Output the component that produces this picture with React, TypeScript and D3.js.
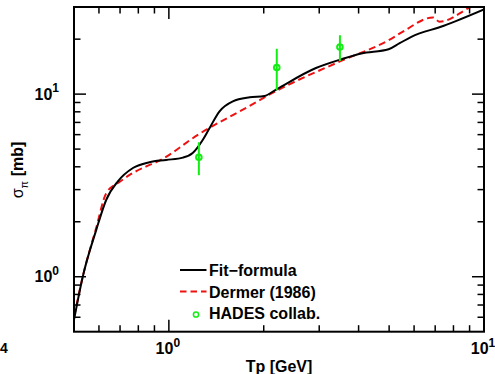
import React from 'react';
import * as d3 from 'd3';

const fitT = [0.5, 0.533, 0.588, 0.633, 0.689, 0.769, 0.868, 0.981, 1.108, 1.19, 1.282, 1.347, 1.448, 1.596, 1.805, 2.01, 2.19, 2.93, 3.52, 4.08, 4.98, 5.4, 5.88, 7.42, 10];
const fitS = [0.58, 1.0, 1.8, 2.64, 3.33, 3.94, 4.24, 4.36, 4.49, 4.76, 5.63, 6.53, 8.05, 9.13, 9.6, 9.77, 10.6, 13.9, 15.5, 16.7, 17.6, 19.0, 20.6, 23.6, 29.1];

const dermerT = [0.5, 0.533, 0.588, 0.633, 0.697, 0.769, 0.848, 0.923, 1.25, 1.8, 2.19, 3.52, 5.0, 5.53, 6.89, 7.23, 9.12, 10];
const dermerS = [0.6, 1.0, 1.85, 2.87, 3.3, 3.7, 4.02, 4.28, 6.06, 8.6, 10.4, 15.2, 19.8, 22.0, 26.3, 24.9, 30.2, 32.5];

const hadesT = [1.245, 2.2, 3.49];
const hadesS = [4.51, 14.0, 18.1];
const hadesLo = [3.59, 10.5, 15.2];
const hadesHi = [5.45, 17.7, 21.0];

const xMajor = [1, 10];
const xMajorExp = ['0', '1'];
const yMajor = [1, 10];
const yMajorExp = ['0', '1'];
const xMinor = [0.6, 0.7, 0.8, 0.9, 2, 3, 4, 5, 6, 7, 8, 9];
const yMinor = [0.6, 0.7, 0.8, 0.9, 2, 3, 4, 5, 6, 7, 8, 9, 20];
const legendLabels = ['Fit\u2212formula', 'Dermer (1986)', 'HADES collab.'];

const W = 495, H = 374;
const L = 74, R = 484, T = 7, B = 331.7;
const FONT = 'Liberation Sans, Arial, Helvetica, sans-serif';
const GREEN = '#11ee11';

export default function App() {
  const x = d3.scaleLog().domain([0.5, 10]).range([L, R]);
  const y = d3.scaleLog().domain([0.5, 30]).range([B, T]);

  const line = d3.line<[number, number]>()
    .x(d => x(d[0]))
    .y(d => y(d[1]))
    .curve(d3.curveMonotoneX);

  const fitPath = line(fitT.map((t, i) => [t, fitS[i]] as [number, number])) || '';
  const dermerPath = line(dermerT.map((t, i) => [t, dermerS[i]] as [number, number])) || '';

  const majLen = 12, minLen = 6.5;

  return (
    <svg width={W} height={H} style={{ position: 'absolute', left: 0, top: 0, background: '#fff' }} fontFamily={FONT}>
      <defs>
        <clipPath id="plotclip">
          <rect x={L} y={T} width={R - L} height={B - T} />
        </clipPath>
      </defs>
      <rect x={0} y={0} width={W} height={H} fill="#fff" />

      {/* curves */}
      <g clipPath="url(#plotclip)">
        <path d={dermerPath} fill="none" stroke="#ee1111" strokeWidth={2} strokeDasharray="7,4" />
        <path d={fitPath} fill="none" stroke="#000" strokeWidth={2} />
        {hadesT.map((t, i) => (
          <g key={i}>
            <line x1={x(t)} x2={x(t)} y1={y(hadesLo[i])} y2={y(hadesHi[i])} stroke={GREEN} strokeWidth={2} />
            <circle cx={x(t)} cy={y(hadesS[i])} r={2.8} fill="none" stroke={GREEN} strokeWidth={2} />
          </g>
        ))}
      </g>

      {/* frame */}
      <rect x={L} y={T} width={R - L} height={B - T} fill="none" stroke="#000" strokeWidth={2} />

      {/* x ticks */}
      {xMajor.map((v, i) => (
        <g key={'xm' + i}>
          <line x1={x(v)} x2={x(v)} y1={B} y2={B - majLen} stroke="#000" strokeWidth={1.5} />
          <line x1={x(v)} x2={x(v)} y1={T} y2={T + majLen} stroke="#000" strokeWidth={1.5} />
          <text x={x(v) - 1} y={354} textAnchor="middle" fontSize={16} fontWeight="bold">
            10<tspan dy={-7.5} fontSize={12}>{xMajorExp[i]}</tspan>
          </text>
        </g>
      ))}
      {xMinor.map((v, i) => (
        <g key={'xn' + i}>
          <line x1={x(v)} x2={x(v)} y1={B} y2={B - minLen} stroke="#000" strokeWidth={1.5} />
          <line x1={x(v)} x2={x(v)} y1={T} y2={T + minLen} stroke="#000" strokeWidth={1.5} />
        </g>
      ))}

      {/* y ticks */}
      {yMajor.map((v, i) => (
        <g key={'ym' + i}>
          <line x1={L} x2={L + majLen} y1={y(v)} y2={y(v)} stroke="#000" strokeWidth={1.5} />
          <line x1={R} x2={R - majLen} y1={y(v)} y2={y(v)} stroke="#000" strokeWidth={1.5} />
          <text x={59} y={y(v) + 5.5} textAnchor="end" fontSize={16} fontWeight="bold">
            10<tspan dy={-7.5} fontSize={12}>{yMajorExp[i]}</tspan>
          </text>
        </g>
      ))}
      {yMinor.map((v, i) => (
        <g key={'yn' + i}>
          <line x1={L} x2={L + minLen} y1={y(v)} y2={y(v)} stroke="#000" strokeWidth={1.5} />
          <line x1={R} x2={R - minLen} y1={y(v)} y2={y(v)} stroke="#000" strokeWidth={1.5} />
        </g>
      ))}

      {/* stray label at left */}
      <text x={0} y={353} textAnchor="start" fontSize={14} fontWeight="bold">4</text>

      {/* axis titles */}
      <text x={279} y={371.5} textAnchor="middle" fontSize={16} fontWeight="bold">Tp [GeV]</text>
      <text transform="translate(23,170) rotate(-90)" textAnchor="middle" fontSize={16} fontWeight="bold">
        <tspan fontWeight="normal">σ</tspan>
        <tspan dy={5} fontSize={11} fontWeight="normal">π</tspan>
        <tspan dy={-5}> [mb]</tspan>
      </text>

      {/* legend */}
      <line x1={180} x2={206.5} y1={270} y2={270} stroke="#000" strokeWidth={2} />
      <line x1={180} x2={206.5} y1={291.5} y2={291.5} stroke="#ee1111" strokeWidth={2} strokeDasharray="6.5,4" />
      <circle cx={196} cy={314.5} r={2.6} fill="none" stroke={GREEN} strokeWidth={1.5} />
      {legendLabels.map((s, i) => (
        <text key={'lg' + i} x={209} y={[275.7, 298, 318.5][i]} fontSize={16} fontWeight="bold">{s}</text>
      ))}
    </svg>
  );
}
